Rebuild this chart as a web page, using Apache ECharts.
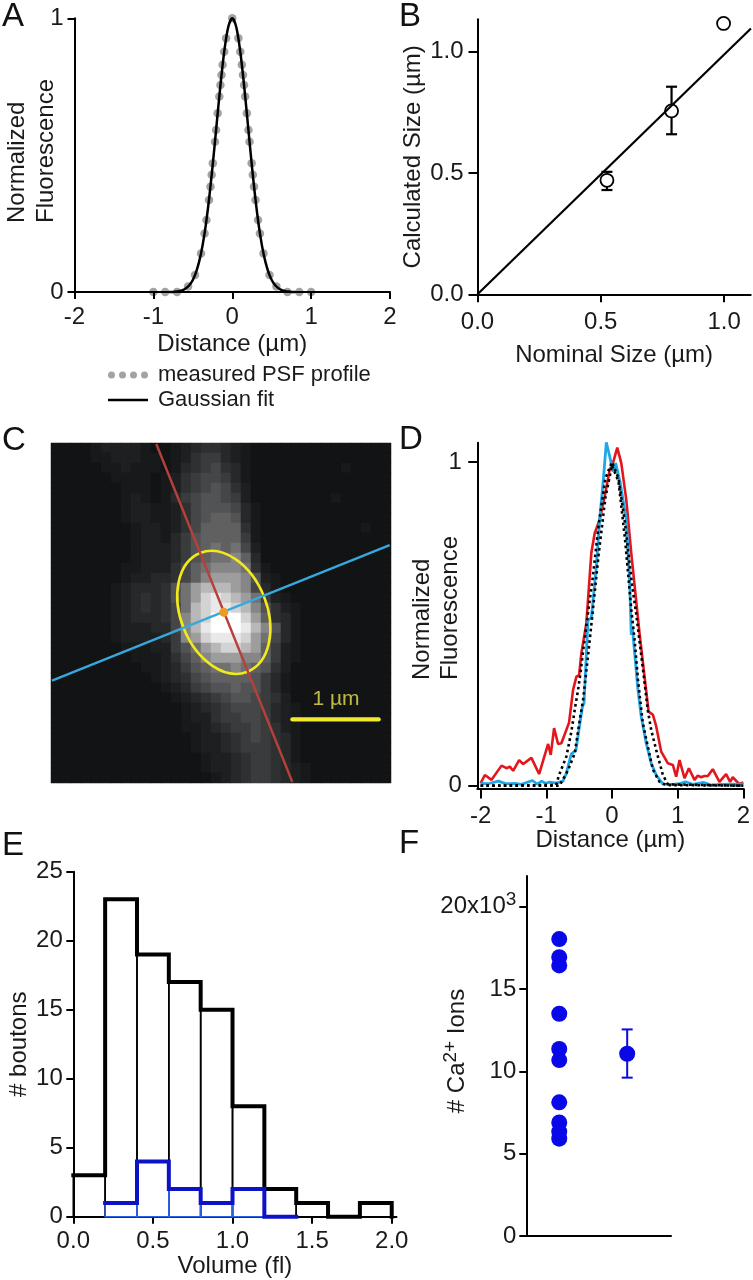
<!DOCTYPE html>
<html><head><meta charset="utf-8">
<style>html,body{margin:0;padding:0;background:#fff}#c{width:753px;height:1280px}</style>
<script src="https://cdn.jsdelivr.net/npm/echarts@6/dist/echarts.min.js"></script>
</head><body><div id="c"></div>
<script>
// Panel A
const psfX=[-1,-0.85,-0.7,-0.56,-0.472,-0.396,-0.351,-0.327,-0.295,-0.276,-0.261,-0.246,-0.219,-0.205,-0.185,-0.164,-0.15,-0.136,-0.122,-0.102,-0.078,0,0.078,0.102,0.122,0.136,0.15,0.164,0.185,0.205,0.219,0.246,0.261,0.276,0.295,0.327,0.351,0.396,0.472,0.56,0.7,0.85,1];
const psfY=[0,0,0,0.02,0.062,0.141,0.214,0.263,0.336,0.385,0.428,0.47,0.549,0.592,0.653,0.714,0.756,0.793,0.83,0.878,0.927,1,0.927,0.878,0.83,0.793,0.756,0.714,0.653,0.592,0.549,0.47,0.428,0.385,0.336,0.263,0.214,0.141,0.062,0.02,0,0,0];
const fitX=[-0.8,-0.75,-0.7,-0.65,-0.6,-0.55,-0.5,-0.45,-0.4,-0.35,-0.3,-0.25,-0.2,-0.15,-0.1,-0.05,0,0.05,0.1,0.15,0.2,0.25,0.3,0.35,0.4,0.45,0.5,0.55,0.6,0.65,0.7,0.75,0.8];
const fitY=[0,0,0.002,0.005,0.011,0.023,0.044,0.08,0.135,0.216,0.325,0.458,0.607,0.755,0.882,0.969,1,0.969,0.882,0.755,0.607,0.458,0.325,0.216,0.135,0.08,0.044,0.023,0.011,0.005,0.002,0,0];
// Panel B
const nominal=[0.525,0.787,0.998];
const calculated=[0.47,0.756,1.117];
const calcLow=[0.43,0.66,1.117];
const calcHigh=[0.505,0.856,1.117];
const unityLine=[[0,0],[1.109,1.096]];
// Panel C (image brightness, 0-f, by row)
const imageRows=[
"0000122221001234432100000000000000",
"0000112221101245532100000000000000",
"0000011211101345643100000000010000",
"0000001111012456653100000000000000",
"0000000111012456764200000000000000",
"0000000121013567765200000000100000",
"0000000122112467776310000000000000",
"0000000122112467887310000000000000",
"0000000012212468888410000000000100",
"0000000012213578888510000000000000",
"0000000012223578989620000000000000",
"000000001222357899a830000000000000",
"0000000112224689aaa941000000000000",
"000000012233468abbba72100000000000",
"00000012333479bcccba63100000000000",
"00000012343479bdedcb95210000000000",
"00000012343469cdeedca7421000000000",
"0000001233346acdfffdb8431000000000",
"0000001222336acefffeca731000000000",
"0000001222235abdeeedb9631000000000",
"000000011122579bcddcb8521000000000",
"000000001112468abbbaa8521000000000",
"000000000112357899a987420000000000",
"0000000000123467888875310000000000",
"0000000000012356778775310000000000",
"0000000000001234567765420000000000",
"0000000000000123456665321000000000",
"0000000000000122455665321000000000",
"0000000000000112345565421000000000",
"0000000000000012234565431000000000",
"0000000000000012234555431000000000",
"0000000000000001223455431000000000",
"0000000000000001223455432100000000",
"0000000000000000123455432100000000"];
const redAxis=[[1.208,0],[2.784,3.915]];
const blueAxis=[[0,2.741],[3.911,1.17]];
const ellipseFit=[[1.99,1.95,0.5,0.74,0.379]];
const spotCentre=[[1.99,1.95]];
const scaleBar=[[2.784,3.19],[3.784,3.19]];
const scaleText=[[3.29,2.96]];
// Panel D
const redTrace=[[-2,0.007],[-1.935,0.033],[-1.833,0.018],[-1.681,0.062],[-1.605,0.054],[-1.555,0.059],[-1.504,0.046],[-1.413,0.079],[-1.352,0.067],[-1.226,0.086],[-1.109,0.036],[-0.972,0.129],[-0.932,0.095],[-0.881,0.178],[-0.82,0.129],[-0.77,0.131],[-0.653,0.195],[-0.592,0.296],[-0.541,0.337],[-0.5,0.342],[-0.466,0.409],[-0.39,0.502],[-0.314,0.719],[-0.263,0.78],[-0.187,0.822],[-0.111,0.894],[-0.035,0.976],[0.015,0.997],[0.081,1.045],[0.142,0.997],[0.218,0.884],[0.294,0.719],[0.42,0.471],[0.558,0.229],[0.624,0.219],[0.674,0.183],[0.75,0.105],[0.852,0.069],[0.927,0.064],[0.978,0.028],[1.029,0.079],[1.105,0.023],[1.171,0.054],[1.256,0.018],[1.307,0.031],[1.358,0.026],[1.408,0.03],[1.459,0.03],[1.535,0.051],[1.636,0.012],[1.738,0.036],[1.799,0.012],[1.839,0.026],[1.94,0.005],[2,0.01]];
const blueTrace=[[-2,0.007],[-1.884,0.006],[-1.73,0.014],[-1.63,0.007],[-1.555,0.006],[-1.48,0.007],[-1.38,0.004],[-1.21,0.016],[-1.14,0.005],[-1.07,0.014],[-1.01,0.007],[-0.95,0.011],[-0.85,0.008],[-0.745,0.014],[-0.695,0.038],[-0.62,0.098],[-0.55,0.108],[-0.45,0.244],[-0.425,0.255],[-0.365,0.512],[-0.314,0.518],[-0.238,0.677],[-0.187,0.822],[-0.127,0.956],[-0.086,1.061],[-0.035,1.018],[0.015,0.971],[0.056,0.997],[0.127,0.935],[0.218,0.822],[0.268,0.636],[0.294,0.466],[0.309,0.492],[0.396,0.296],[0.446,0.213],[0.522,0.131],[0.598,0.069],[0.674,0.033],[0.775,0.005],[0.927,0.004],[1.03,0.006],[1.12,0.012],[1.23,0.004],[1.4,0.01],[1.51,0.002],[1.636,0.004],[1.84,0.005],[2,0.005]];
const fitWide=[[-2,0],[-0.85,0.002],[-0.805,0.033],[-0.694,0.09],[-0.618,0.167],[-0.567,0.234],[-0.516,0.296],[-0.48,0.347],[-0.43,0.43],[-0.365,0.533],[-0.3,0.63],[-0.2,0.81],[-0.1,0.95],[0,1],[0.1,0.95],[0.2,0.81],[0.3,0.63],[0.37,0.53],[0.43,0.43],[0.48,0.347],[0.547,0.231],[0.598,0.172],[0.674,0.11],[0.775,0.033],[0.852,0.004],[2,0]];
const fitNarrow=[[-2,0],[-0.8,0],[-0.67,0.047],[-0.567,0.1],[-0.49,0.203],[-0.44,0.265],[-0.365,0.4],[-0.29,0.543],[-0.2,0.72],[-0.1,0.89],[0,0.99],[0.1,0.94],[0.2,0.76],[0.295,0.543],[0.345,0.45],[0.396,0.327],[0.47,0.193],[0.547,0.12],[0.624,0.049],[0.725,0.012],[0.826,0.002],[2,0]];
// Panel E
const binEdges=[0,0.2,0.4,0.6,0.8,1,1.2,1.4,1.6,1.8,2];
const allCounts=[3,23,19,17,15,8,2,1,0,1];
const subsetEdges=[0.2,0.4,0.6,0.8,1,1.2,1.4];
const subsetCounts=[1,4,2,1,2,0];
// Panel F
const ionX=[0.97,0.97,0.97,0.97,0.97,0.97,0.97,0.97,0.97,0.97];
const ionCounts=[18.04,16.94,16.44,13.5,11.36,10.69,8.12,6.9,6.34,5.91];
const ionMean=[[2.97,11.07]];
const ionErr=[[2.97,9.62,12.55]];
// Ticks
const ticksA_x=[-2,-1,0,1,2], ticksA_y=[0,1];
const ticksB=[0,0.5,1];
const ticksD_x=[-2,-1,0,1,2], ticksD_y=[0,1];
const ticksE_x=[0,0.5,1,1.5,2], ticksE_y=[0,5,10,15,20,25];
const ticksF_y=[0,5,10,15,20];

const FONT='"Liberation Sans",Arial,sans-serif', INK='#1a1a1a';
const TS=24, TL=24;
function axis(o){
  const a={type:'value',gridIndex:o.g,min:o.min,max:o.max,position:o.pos,
    axisLine:{show:true,onZero:false,lineStyle:{color:'#000',width:o.lw||2}},
    axisTick:{show:o.ticks!==null,length:o.tl||7,customValues:o.ticks||[],lineStyle:{color:'#000',width:o.lw||2}},
    axisLabel:{show:o.ticks!==null,customValues:o.ticks||[],margin:o.margin||10,color:INK,fontSize:TS,fontFamily:FONT,
      showMinLabel:true,showMaxLabel:true,hideOverlap:false,formatter:o.fmt||(v=>String(v))},
    splitLine:{show:false},z:o.z||10};
  if(o.rich)a.axisLabel.rich=o.rich;
  if(o.name){a.name=o.name;a.nameLocation='middle';a.nameGap=o.gap;a.nameMoveOverlap=false;
    a.nameTextStyle={color:INK,fontSize:TL,fontFamily:FONT,padding:o.pad||0};if(o.nameRich)a.nameTextStyle.rich=o.nameRich;
    if(o.pos==='left')a.nameRotate=90;}
  return a;
}
const one=v=>v.toFixed(1);
const hidden=(g,min,max,pos)=>({type:'value',gridIndex:g,min,max,show:false,position:pos});
const imgRowsN=imageRows.length, imgColsN=imageRows[0].length;
const cats=n=>Array.from({length:n},(_,i)=>i);
const heat=[];
imageRows.forEach((r,j)=>{for(let i=0;i<r.length;i++)heat.push([i,j,parseInt(r[i],16)]);});
const zip=(a,b)=>a.map((v,i)=>[v,b[i]]);
const stepData=(edges,counts)=>{const d=edges.slice(0,-1).map((e,i)=>[e,counts[i]]);d.push([edges[edges.length-1],counts[counts.length-1]]);return d;};
const binRects=(edges,counts)=>counts.map((c,i)=>[edges[i],edges[i+1],c]);
function bars(xi,yi,color,lw,data){return {type:'custom',xAxisIndex:xi,yAxisIndex:yi,clip:false,silent:true,data,encode:{x:[0,1],y:2},
  renderItem(p,api){const a=api.coord([api.value(0),api.value(2)]),b=api.coord([api.value(1),0]);
    return {type:'rect',shape:{x:a[0],y:a[1],width:b[0]-a[0],height:b[1]-a[1]},style:{fill:'none',stroke:color,lineWidth:lw}};}};}
function errs(xi,yi,color,lw,cap,data){return {type:'custom',xAxisIndex:xi,yAxisIndex:yi,clip:false,silent:true,data,encode:{x:0,y:[1,2]},
  renderItem(p,api){const x=api.value(0),l=api.coord([x,api.value(1)]),h=api.coord([x,api.value(2)]);
    const st={stroke:color,lineWidth:lw,fill:'none'};
    return {type:'group',children:[
      {type:'line',shape:{x1:l[0],y1:l[1],x2:h[0],y2:h[1]},style:st},
      {type:'line',shape:{x1:l[0]-cap,y1:l[1],x2:l[0]+cap,y2:l[1]},style:st},
      {type:'line',shape:{x1:h[0]-cap,y1:h[1],x2:h[0]+cap,y2:h[1]},style:st}]};}};}
const line=(xi,yi,data,color,lw,extra)=>Object.assign({type:'line',xAxisIndex:xi,yAxisIndex:yi,data,showSymbol:false,symbol:'none',clip:false,silent:true,
  itemStyle:{color},lineStyle:{color,width:lw}},extra||{});

const dotsIcon='path://M0 3.5a3.5 3.5 0 1 0 7 0a3.5 3.5 0 1 0 -7 0ZM11 3.5a3.5 3.5 0 1 0 7 0a3.5 3.5 0 1 0 -7 0ZM22 3.5a3.5 3.5 0 1 0 7 0a3.5 3.5 0 1 0 -7 0ZM33 3.5a3.5 3.5 0 1 0 7 0a3.5 3.5 0 1 0 -7 0Z';
const lineIcon='path://M0 0H41V2.4H0Z';
const panelLetters=[['A',2,0],['B',399,0],['C',2,424],['D',399,423],['E',2,829],['F',399,827]];
const twoLine=(x,y)=>({type:'text',x,y,rotation:Math.PI/2,style:{text:'Normalized\nFluorescence',align:'left',verticalAlign:'middle',lineHeight:28.5,fontSize:TL,fontFamily:FONT,fill:INK}});

const option={
  animation:false,backgroundColor:'#fff',
  title:panelLetters.map(([text,left,top])=>({text,left,top,padding:0,textStyle:{fontSize:33,fontWeight:'normal',fontFamily:FONT,color:'#111'}})),
  legend:{left:103,top:359,orient:'vertical',itemGap:3,itemWidth:40,itemHeight:8,align:'left',selectedMode:false,
    textStyle:{fontSize:22,fontFamily:FONT,color:INK,padding:[0,0,0,5]},
    data:[{name:'measured PSF profile',icon:dotsIcon},{name:'Gaussian fit',icon:lineIcon}]},
  graphic:[twoLine(32,223),twoLine(436.5,680)],
  visualMap:{show:false,seriesIndex:5,dimension:2,min:0,max:15,inRange:{color:['#111315','#1e2022','#313335','#4a4b4c','#686869','#959596','#d0d0d0','#ffffff']}},
  grid:[
    {left:74.5,top:18.3,width:315.5,height:273.7},
    {left:477.5,top:19.3,width:273.2,height:275},
    {left:51,top:443,width:340,height:340},
    {left:52,top:444,width:338,height:338},
    {left:477.3,top:442.7,width:266.7,height:345.8},
    {left:73.3,top:871.7,width:323.2,height:345},
    {left:526.3,top:876,width:144.7,height:360}
  ],
  xAxis:[
    axis({g:0,min:-2,max:2,pos:'bottom',ticks:ticksA_x,margin:13,name:'Distance (µm)',gap:40}),
    axis({g:1,min:0,max:1.108,pos:'bottom',ticks:ticksB,tl:8,margin:16,fmt:one,name:'Nominal Size (µm)',gap:49}),
    {type:'category',gridIndex:2,data:cats(imgColsN),show:false},
    hidden(3,0,3.915,'bottom'),
    axis({g:4,min:-2.05,max:2,pos:'bottom',ticks:ticksD_x,tl:10,margin:16,name:'Distance (µm)',gap:40}),
    axis({g:5,min:0,max:2.03,pos:'bottom',ticks:ticksE_x,margin:13,fmt:one,name:'Volume (fl)',gap:38,z:1}),
    axis({g:6,min:0,max:4.26,pos:'bottom',ticks:null})
  ],
  yAxis:[
    axis({g:0,min:0,max:1,pos:'left',ticks:ticksA_y,margin:11}),
    axis({g:1,min:0,max:1.134,pos:'left',ticks:ticksB,tl:9,margin:14,fmt:one,name:'Calculated Size (µm)',gap:52}),
    {type:'category',gridIndex:2,data:cats(imgRowsN),inverse:true,show:false},
    Object.assign(hidden(3,0,3.915,'left'),{inverse:true}),
    axis({g:4,min:-0.0087,max:1.06,pos:'left',ticks:ticksD_y,tl:9,margin:15.5}),
    axis({g:5,min:0,max:25,pos:'left',ticks:ticksE_y,margin:10.5,name:'# boutons',gap:42,z:1}),
    axis({g:6,min:0,max:21.87,pos:'left',ticks:ticksF_y,margin:10,
      fmt:v=>v===20?'{a|20x10}{s|3}':'{a|'+v+'}',
      rich:{a:{fontSize:TS,fontFamily:FONT,color:INK},s:{fontSize:19,fontFamily:FONT,color:INK,verticalAlign:'top',padding:[0,0,14,0]}},
      name:'{a|# Ca}{s|2+}{a| Ions}',gap:52,pad:[0,0,0,10],
      nameRich:{a:{fontSize:TL,fontFamily:FONT,color:INK},s:{fontSize:19,fontFamily:FONT,color:INK,verticalAlign:'top',padding:[0,0,14,0]}}})
  ],
  series:[
    // 0-1 panel A
    {type:'scatter',name:'measured PSF profile',xAxisIndex:0,yAxisIndex:0,data:zip(psfX,psfY),symbolSize:8.5,clip:false,silent:true,itemStyle:{color:'#a3a3a3',opacity:1}},
    line(0,0,zip(fitX,fitY),'#000',2.5,{name:'Gaussian fit',smooth:0.3}),
    // 2-4 panel B
    line(1,1,unityLine,'#000',2.2),
    errs(1,1,'#000',2.2,5.5,nominal.slice(0,2).map((x,i)=>[x,calcLow[i],calcHigh[i]])),
    {type:'scatter',xAxisIndex:1,yAxisIndex:1,data:zip(nominal,calculated),symbolSize:13,clip:false,silent:true,itemStyle:{color:'#fff',borderColor:'#000',borderWidth:1.8,opacity:1}},
    // 5 panel C image
    {type:'heatmap',xAxisIndex:2,yAxisIndex:2,data:heat,silent:true,progressive:0},
    // 6-11 panel C overlay
    line(3,3,redAxis,'#b5413a',2.4),
    line(3,3,blueAxis,'#38a8dc',2.4),
    {type:'custom',xAxisIndex:3,yAxisIndex:3,clip:false,silent:true,data:ellipseFit,encode:{x:0,y:1},
      renderItem(p,api){const c=api.coord([api.value(0),api.value(1)]),s=api.size([api.value(2),api.value(3)]);
        return {type:'ellipse',x:c[0],y:c[1],rotation:api.value(4),shape:{cx:0,cy:0,rx:s[0],ry:s[1]},style:{fill:'none',stroke:'#f2ea1c',lineWidth:2.6}};}},
    {type:'scatter',xAxisIndex:3,yAxisIndex:3,data:spotCentre,symbolSize:9,silent:true,z:6,itemStyle:{color:'#ef9a22',opacity:1}},
    line(3,3,scaleBar,'#f2ea2c',4.2,{lineStyle:{color:'#f2ea2c',width:4.2,cap:'round'}}),
    {type:'scatter',xAxisIndex:3,yAxisIndex:3,data:scaleText,symbolSize:0,silent:true,label:{show:true,position:'inside',formatter:'1 µm',color:'#ece34e',fontSize:21,fontFamily:FONT}},
    // 12-15 panel D
    line(4,4,redTrace,'#e2161c',2.6),
    line(4,4,blueTrace,'#1fa8e6',2.8),
    line(4,4,fitWide,'#000',2.6,{lineStyle:{color:'#000',width:2.6,type:[2.6,3.2]}}),
    line(4,4,fitNarrow,'#000',2.6,{lineStyle:{color:'#000',width:2.6,type:[2.6,3.2]}}),
    // 16-19 panel E
    bars(5,5,'#000',1.6,binRects(binEdges,allCounts)),
    line(5,5,stepData(binEdges,allCounts).concat([[2,0]]),'#000',4,{step:'end',lineStyle:{color:'#000',width:4,join:'miter',cap:'square'}}),
    bars(5,5,'#2a62e6',1.6,binRects(subsetEdges,subsetCounts)),
    line(5,5,stepData(subsetEdges,subsetCounts),'#0c12c8',4,{step:'end',lineStyle:{color:'#0c12c8',width:4,join:'miter',cap:'square'}}),
    // 20-22 panel F
    errs(6,6,'#0a0ae0',2,5.5,ionErr),
    {type:'scatter',xAxisIndex:6,yAxisIndex:6,data:zip(ionX,ionCounts),symbolSize:16,silent:true,itemStyle:{color:'#0808e8',opacity:1}},
    {type:'scatter',xAxisIndex:6,yAxisIndex:6,data:ionMean,symbolSize:16,silent:true,itemStyle:{color:'#0808e8',opacity:1}}
  ]
};
const chart=echarts.init(document.getElementById('c'),null,{renderer:'canvas',width:753,height:1280});
chart.setOption(option);
</script></body></html>
